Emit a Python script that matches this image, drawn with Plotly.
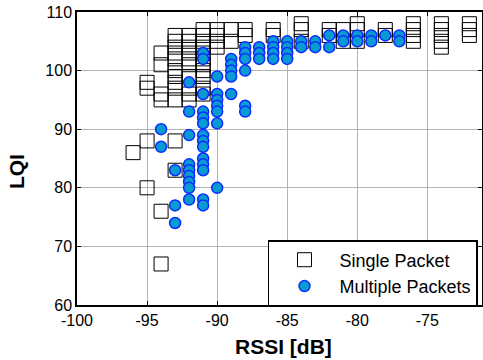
import plotly.graph_objects as go

# Single Packet (hollow squares): RSSI [dB] and LQI pairs
single_rssi = ([-96] + [-95] * 4 + [-94] * 6 + [-93] * 12 + [-92] * 10 + [-91] * 11 +
               [-90] * 4 + [-89] * 2 + [-88] * 2 + [-86] * 2 + [-84] * 3 + [-82] * 2 +
               [-81] * 2 + [-80] * 3 + [-78] * 2 + [-76] * 4 + [-74] * 5 + [-72] * 3)
single_lqi = ([86] +
              [98, 97, 88, 80] +
              [103, 101, 96, 95, 76, 67] +
              [106, 105, 104, 103, 102, 100, 99, 98, 97, 95, 88, 83] +
              [106, 105, 104, 103, 102, 101, 99, 97, 96, 95] +
              [107, 106, 105, 104, 103, 102, 101, 100, 99, 97, 96] +
              [107, 106, 105, 104] +
              [107, 105] +
              [107, 106] +
              [107, 106] +
              [108, 107, 105] +
              [107, 106] +
              [107, 105] +
              [108, 107, 105] +
              [107, 106] +
              [108, 107, 106, 105] +
              [108, 107, 106, 105, 104] +
              [108, 107, 106])

# Multiple Packets (filled circles)
multi_rssi = ([-94] * 2 + [-93] * 3 + [-92] * 9 + [-91] * 14 + [-90] * 7 + [-89] * 5 +
              [-88] * 6 + [-87] * 3 + [-86] * 4 + [-85] * 4 + [-84] * 2 + [-83] * 2 +
              [-82] * 2 + [-81] * 2 + [-80] * 2 + [-79] * 2 + [-78] * 1 + [-77] * 2)
multi_lqi = ([90, 87] +
             [83, 77, 74] +
             [98, 93, 89, 84, 83, 82, 81, 80, 78] +
             [103, 102, 96, 93, 92, 91, 89, 88, 87, 85, 84, 83, 78, 77] +
             [99, 96, 95, 94, 93, 91, 80] +
             [102, 101, 100, 99, 96] +
             [104, 103, 102, 100, 94, 93] +
             [104, 103, 102] +
             [105, 104, 103, 102] +
             [105, 104, 103, 102] +
             [105, 104] +
             [105, 104] +
             [106, 104] +
             [106, 105] +
             [106, 105] +
             [106, 105] +
             [106] +
             [106, 105])

x_ticks = [-100, -95, -90, -85, -80, -75]
x_ticklabels = ["-100", "-95", "-90", "-85", "-80", "-75"]
y_ticks = [60, 70, 80, 90, 100, 110]
y_ticklabels = ["60", "70", "80", "90", "100", "110"]

FONT = "Arial, Liberation Sans, sans-serif"

fig = go.Figure()
fig.add_trace(go.Scatter(
    x=single_rssi, y=single_lqi, mode="markers", name="Single Packet",
    marker=dict(symbol="square-open", size=14, color="black", line=dict(width=1)),
))
fig.add_trace(go.Scatter(
    x=multi_rssi, y=multi_lqi, mode="markers", name="Multiple Packets",
    marker=dict(symbol="circle", size=11, color="#0a9ad2",
                line=dict(width=1.5, color="#0a2cff")),
))

axis_common = dict(
    showgrid=True, gridcolor="#b4b4b4", gridwidth=1,
    showline=True, linecolor="black", mirror="ticks",
    ticks="inside", ticklen=4, tickcolor="black",
    zeroline=False, automargin=False,
    tickfont=dict(family=FONT, size=16, color="black"),
)

fig.update_layout(
    width=483, height=360,
    margin=dict(l=77, r=1, t=12, b=55, autoexpand=False),
    paper_bgcolor="white", plot_bgcolor="white",
    font=dict(family=FONT, color="black"),
    xaxis=dict(range=[-100, -71.1], tickvals=x_ticks, ticktext=x_ticklabels,
               linewidth=2, **axis_common),
    yaxis=dict(range=[60, 110], tickvals=y_ticks, ticktext=y_ticklabels,
               linewidth=1.5, **axis_common),
    legend=dict(
        x=0.4716, y=0.2218, xanchor="left", yanchor="top",
        bgcolor="white", bordercolor="black", borderwidth=1.5,
        font=dict(family=FONT, size=18, color="black"),
        itemwidth=60,
    ),
    showlegend=True,
    annotations=[
        dict(text="<b>RSSI [dB]</b>", xref="paper", yref="paper",
             x=0.511, y=-0.14, xanchor="center", yanchor="middle",
             showarrow=False, font=dict(family=FONT, size=21, color="black")),
        dict(text="<b>LQI</b>", xref="paper", yref="paper",
             x=-0.148, y=0.454, xanchor="center", yanchor="middle", textangle=-90,
             showarrow=False, font=dict(family=FONT, size=21, color="black")),
    ],
)

fig.write_html("out.html", config={"displayModeBar": False},
               post_script="document.body.style.margin='0px';")
